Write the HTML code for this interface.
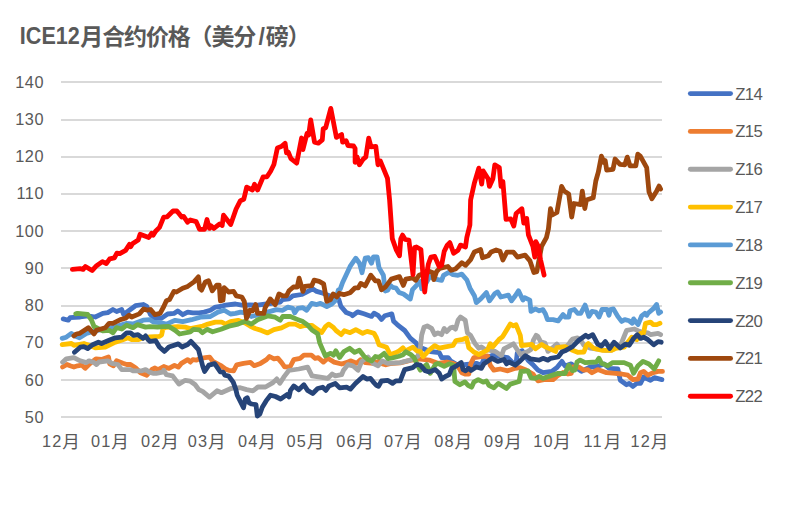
<!DOCTYPE html>
<html><head><meta charset="utf-8"><title>ICE12</title>
<style>html,body{margin:0;padding:0;background:#fff;}body{width:796px;height:517px;overflow:hidden;font-family:"Liberation Sans",sans-serif;}</style>
</head><body>
<svg width="796" height="517" viewBox="0 0 796 517" style="display:block">
<rect width="796" height="517" fill="#fff"/>
<rect x="61" y="81" width="601" height="2" fill="#D9D9D9"/>
<rect x="61" y="119" width="601" height="2" fill="#D9D9D9"/>
<rect x="61" y="156" width="601" height="2" fill="#D9D9D9"/>
<rect x="61" y="193" width="601" height="2" fill="#D9D9D9"/>
<rect x="61" y="230" width="601" height="2" fill="#D9D9D9"/>
<rect x="61" y="267" width="601" height="2" fill="#D9D9D9"/>
<rect x="61" y="305" width="601" height="2" fill="#D9D9D9"/>
<rect x="61" y="342" width="601" height="2" fill="#D9D9D9"/>
<rect x="61" y="379" width="601" height="2" fill="#D9D9D9"/>
<rect x="61" y="416" width="601" height="2" fill="#D9D9D9"/>
<g font-family="Liberation Sans, sans-serif" font-size="16.3" fill="#595959" text-anchor="end">
<text x="44.0" y="87.80" letter-spacing="0.55">140</text>
<text x="44.0" y="125.02" letter-spacing="0.55">130</text>
<text x="44.0" y="162.24" letter-spacing="0.55">120</text>
<text x="44.0" y="199.47" letter-spacing="0.55">110</text>
<text x="44.0" y="236.69" letter-spacing="0.55">100</text>
<text x="44.0" y="273.91" letter-spacing="0.55">90</text>
<text x="44.0" y="311.13" letter-spacing="0.55">80</text>
<text x="44.0" y="348.36" letter-spacing="0.55">70</text>
<text x="44.0" y="385.58" letter-spacing="0.55">60</text>
<text x="44.0" y="422.80" letter-spacing="0.55">50</text>
</g>
<g font-family="Liberation Sans, sans-serif" font-size="16.3" fill="#595959">
<text x="41.96" y="446.8" letter-spacing="1.2">12</text>
<text x="91.00" y="446.8" letter-spacing="1.2">01</text>
<text x="141.00" y="446.8" letter-spacing="1.2">02</text>
<text x="187.70" y="446.8" letter-spacing="1.2">03</text>
<text x="238.06" y="446.8" letter-spacing="1.2">04</text>
<text x="286.46" y="446.8" letter-spacing="1.2">05</text>
<text x="336.16" y="446.8" letter-spacing="1.2">06</text>
<text x="383.96" y="446.8" letter-spacing="1.2">07</text>
<text x="434.26" y="446.8" letter-spacing="1.2">08</text>
<text x="484.06" y="446.8" letter-spacing="1.2">09</text>
<text x="533.16" y="446.8" letter-spacing="1.2">10</text>
<text x="583.56" y="446.8" letter-spacing="1.2">11</text>
<text x="630.56" y="446.8" letter-spacing="1.2">12</text>
</g>
<g font-family="'Liberation Sans', 'Noto Sans CJK SC', sans-serif" font-size="17.6" fill="#595959">
<text x="62.16" y="448.4">月</text>
<text x="111.20" y="448.4">月</text>
<text x="161.20" y="448.4">月</text>
<text x="207.90" y="448.4">月</text>
<text x="258.26" y="448.4">月</text>
<text x="306.66" y="448.4">月</text>
<text x="356.36" y="448.4">月</text>
<text x="404.16" y="448.4">月</text>
<text x="454.46" y="448.4">月</text>
<text x="504.26" y="448.4">月</text>
<text x="553.36" y="448.4">月</text>
<text x="603.76" y="448.4">月</text>
<text x="650.76" y="448.4">月</text>
</g>
<polyline points="63.2,318.9 68.2,320.2 70.1,317.7 80.2,317.0 87.7,315.8 95.3,317.0 102.8,313.3 107.8,312.6 112.9,309.5 116.6,311.5 121.7,309.5 123.6,314.5 135.5,305.7 143.1,304.5 146.8,306.4 150.3,314.3 153.8,317.8 161.3,318.4 167.6,314.0 173.9,313.4 177.7,310.9 182.7,314.7 187.7,312.1 192.8,312.8 199.1,312.8 204.1,312.1 210.4,310.3 215.4,307.1 220.4,306.5 225.5,305.2 235.5,304.0 241.8,305.2 250.0,304.9 257.6,305.2 270.0,303.5 280.2,302.1 282.7,299.6 289.0,298.9 292.8,295.8 301.6,294.5 307.9,291.4 312.9,288.9 316.7,291.4 323.0,293.3 330.0,296.0 336.0,297.5 338.8,299.5 340.9,306.4 346.3,312.6 351.4,314.5 352.6,315.7 357.6,311.9 363.9,313.8 371.5,316.4 374.0,313.2 378.4,315.7 381.5,319.5 384.8,315.7 391.8,313.9 393.6,321.2 397.2,324.6 404.7,330.5 410.3,338.1 416.0,342.8 418.0,346.5 425.3,349.5 430.4,351.5 439.2,352.6 441.7,357.6 448.0,357.6 450.5,360.8 456.0,364.0 462.0,365.0 466.8,364.5 476.3,363.3 481.4,365.2 483.9,358.9 492.7,355.1 500.0,356.5 507.8,357.6 511.5,361.5 515.9,365.2 517.2,353.2 522.2,350.7 525.0,355.0 527.9,360.2 532.9,364.6 538.0,370.2 543.0,372.7 551.8,371.5 556.8,367.7 561.9,361.4 565.0,366.0 571.3,363.9 576.0,367.5 581.4,371.4 590.2,367.0 597.0,366.5 604.0,363.9 609.0,368.3 617.8,368.9 620.3,380.3 626.6,384.7 629.2,383.4 632.9,386.5 636.7,383.4 640.5,383.4 643.6,377.1 650.5,380.3 654.3,377.7 661.9,379.6" fill="none" stroke="#4472C4" stroke-width="4.8" stroke-linejoin="round" stroke-linecap="round"/>
<polyline points="62.6,367.0 67.0,364.5 70.1,365.8 73.9,367.0 77.6,365.8 82.0,365.2 85.2,368.3 89.0,364.5 92.7,361.4 95.9,358.9 101.5,359.5 108.5,357.0 109.7,363.9 113.5,365.8 116.6,360.8 122.9,363.3 126.7,364.5 130.5,364.5 135.5,367.7 140.5,372.7 146.8,375.2 151.9,369.5 155.0,368.0 158.2,369.7 163.8,366.5 168.9,368.4 174.5,365.3 178.3,367.1 181.4,363.4 187.7,359.6 190.3,362.1 192.8,359.6 196.5,360.2 200.0,358.5 205.3,357.7 209.7,357.1 212.9,361.5 220.4,365.3 225.5,369.0 228.6,370.3 233.6,370.9 236.7,364.8 243.6,363.3 250.4,362.4 254.2,365.7 260.5,363.4 266.5,359.6 269.5,356.5 274.0,358.9 277.8,358.1 281.6,362.6 284.6,366.8 290.0,367.0 293.8,359.6 300.1,358.3 303.9,355.2 311.4,355.2 315.2,358.3 318.3,357.7 323.4,362.1 327.8,358.3 334.1,362.1 341.6,364.0 347.9,362.1 350.4,360.8 356.7,363.3 360.5,359.6 365.5,362.7 373.0,363.3 379.3,361.4 382.5,364.0 386.0,364.8 390.0,363.6 400.2,362.8 410.2,360.4 418.4,358.9 429.1,360.1 437.9,363.3 446.7,362.0 453.0,363.3 457.5,365.5 461.8,372.7 465.0,374.0 468.8,374.0 470.7,363.9 473.8,357.6 487.6,355.8 490.2,365.2 493.9,370.2 500.2,369.0 507.8,370.8 515.3,368.3 520.3,367.7 526.0,370.0 532.9,374.0 538.0,380.9 545.0,379.5 553.1,379.7 558.1,375.3 563.0,372.5 568.0,374.0 571.3,373.3 572.5,367.0 578.8,367.0 583.9,370.2 587.7,369.6 592.0,372.7 597.7,369.6 606.5,372.7 615.3,373.3 621.6,374.0 627.9,375.2 632.9,379.6 638.0,379.0 640.5,372.7 643.6,371.4 648.0,375.2 653.1,372.7 658.1,371.4 662.5,371.4" fill="none" stroke="#ED7D31" stroke-width="4.8" stroke-linejoin="round" stroke-linecap="round"/>
<polyline points="62.6,362.2 66.3,358.9 73.9,357.6 80.2,360.8 86.4,362.6 89.0,360.8 94.0,362.6 96.5,364.5 99.0,362.0 107.8,360.8 111.6,363.3 117.9,364.5 121.7,369.6 130.5,369.6 133.0,370.8 141.8,370.8 145.6,369.6 149.3,372.1 153.0,373.3 156.3,373.4 162.6,372.2 163.8,370.3 166.4,374.7 172.6,375.9 178.9,384.1 185.2,380.3 190.3,381.2 195.0,384.5 198.8,389.6 202.6,391.4 209.5,397.1 217.0,390.8 221.4,392.7 231.5,388.3 240.3,387.7 246.6,389.6 252.9,390.8 257.9,387.0 265.5,387.0 273.0,382.6 276.8,378.9 279.9,383.3 284.3,376.4 288.8,370.5 298.8,369.0 307.6,367.1 312.0,375.9 320.2,377.2 327.8,378.4 332.2,374.0 335.3,375.9 341.6,374.7 343.5,370.3 347.9,364.6 352.9,365.8 358.0,370.3 361.7,361.4 368.0,357.0 373.0,363.3 378.1,365.8 382.2,361.0 387.6,363.3 400.2,362.6 410.2,360.1 417.8,356.4 420.3,347.5 421.7,335.0 424.0,327.2 427.2,325.9 431.6,328.4 434.7,334.7 437.9,332.8 441.6,334.7 444.2,328.4 446.7,331.6 450.4,327.8 453.0,327.2 455.5,329.1 458.0,320.3 460.5,317.1 465.3,320.3 467.4,332.8 470.6,335.3 475.0,343.5 478.8,348.2 481.4,346.9 485.0,349.5 495.2,351.4 501.5,355.8 504.0,348.8 513.4,343.8 520.3,354.5 527.9,351.4 531.0,349.5 533.4,340.2 536.1,335.3 538.0,336.6 540.8,341.8 545.0,343.0 548.0,351.4 553.0,347.5 556.8,344.0 559.5,347.0 566.0,347.0 569.0,343.8 570.5,341.4 572.5,339.1 577.6,337.8 581.0,340.5 583.9,345.3 590.0,348.0 597.0,349.0 605.3,350.4 612.0,350.0 620.5,345.5 624.1,336.5 626.6,330.3 634.2,329.0 638.6,330.9 643.0,332.5 648.0,332.8 650.5,334.7 658.1,333.4 660.6,334.7" fill="none" stroke="#A5A5A5" stroke-width="4.8" stroke-linejoin="round" stroke-linecap="round"/>
<polyline points="62.2,344.7 71.4,343.5 73.9,345.3 83.9,343.5 89.0,345.3 95.3,347.9 105.3,347.2 115.4,342.2 122.9,339.7 128.0,337.8 131.7,339.7 138.0,339.7 143.0,337.8 150.0,337.0 159.6,336.3 161.6,335.0 163.0,328.6 166.0,327.3 170.0,327.2 177.7,326.6 185.2,327.2 190.3,328.5 202.8,326.0 207.9,324.1 215.4,322.2 221.7,322.2 225.5,324.1 230.5,321.6 238.1,320.3 245.0,323.0 250.0,326.0 255.1,328.5 261.4,330.4 267.6,332.9 273.9,329.7 281.5,327.9 289.0,324.1 295.3,324.1 300.3,326.6 305.0,325.5 311.7,325.3 318.0,329.7 321.7,332.5 325.5,326.6 328.6,324.1 333.1,327.2 336.0,330.5 341.3,334.6 344.4,330.8 350.1,332.7 355.8,329.6 362.7,333.3 367.1,331.4 374.0,333.3 376.5,337.7 379.0,344.7 386.6,347.2 390.3,354.7 395.4,352.8 399.2,350.9 402.9,347.8 405.4,350.9 410.5,348.4 413.0,347.2 416.8,350.9 420.5,351.6 423.1,356.6 426.8,352.8 429.1,350.1 434.7,345.7 439.2,348.2 445.4,346.9 453.0,345.5 456.0,340.5 463.0,339.3 466.5,338.0 468.8,347.6 473.8,352.0 478.8,354.5 485.1,351.4 487.5,350.0 490.2,343.8 492.7,346.9 499.0,339.5 502.7,336.6 510.3,324.0 513.4,325.9 516.0,324.7 520.3,335.3 521.6,345.7 531.7,344.4 535.4,348.8 541.7,344.4 545.5,346.9 555.6,351.4 556.8,347.6 565.0,346.6 571.3,349.7 577.6,352.3 583.9,352.0 586.4,345.3 588.3,343.5 593.9,348.5 602.7,350.4 611.5,350.4 615.3,348.5 624.1,347.2 627.9,342.2 631.7,337.2 636.7,339.7 640.5,333.4 643.6,332.8 645.5,323.3 650.5,322.1 653.1,324.6 656.8,324.6 660.0,323.3" fill="none" stroke="#FFC000" stroke-width="4.8" stroke-linejoin="round" stroke-linecap="round"/>
<polyline points="62.2,338.4 66.3,337.2 71.4,333.4 75.0,336.0 79.5,337.8 86.4,333.4 95.0,331.0 103.0,329.5 111.6,327.7 126.7,323.3 133.0,324.0 143.1,320.2 150.0,319.7 153.8,322.2 161.3,322.8 166.4,324.1 175.2,320.3 182.7,321.6 191.5,319.7 200.3,317.2 210.4,316.5 217.9,312.1 224.2,310.3 230.5,314.0 235.5,313.4 240.6,312.1 245.0,313.0 251.3,316.5 258.8,314.7 267.6,312.1 276.4,309.6 282.7,310.3 287.8,307.1 292.8,308.4 294.7,312.8 297.8,308.4 302.9,307.7 306.6,310.3 311.7,303.3 316.7,304.6 320.5,303.3 326.8,306.5 331.8,304.0 335.6,300.2 338.3,290.0 340.3,288.9 342.5,282.7 350.1,266.4 355.8,258.2 359.5,263.2 362.0,272.7 365.2,258.2 368.3,257.6 371.5,263.2 373.4,256.9 377.1,256.9 379.0,267.6 383.4,275.2 385.3,291.0 387.8,290.3 390.3,285.3 392.6,287.3 396.0,288.0 399.0,292.4 403.5,294.0 410.3,299.0 412.5,289.6 417.0,284.8 420.4,281.6 421.7,288.9 425.0,285.0 429.7,276.6 435.3,279.1 441.6,280.3 443.5,275.3 449.2,272.2 453.0,274.7 458.0,275.3 461.8,274.1 466.9,280.0 470.0,288.2 474.4,295.7 476.3,302.6 480.7,298.9 486.4,292.6 489.5,300.8 494.6,293.8 497.7,291.9 500.8,297.0 508.4,295.1 511.5,300.8 515.3,295.7 518.5,290.7 522.9,300.1 524.7,297.6 529.8,300.1 531.0,311.4 535.4,308.9 539.2,310.8 543.0,309.6 545.5,314.0 547.4,319.6 553.1,319.6 558.1,320.9 563.1,314.6 565.0,317.0 568.8,317.0 570.0,310.8 574.4,309.5 577.6,313.3 580.7,313.3 585.1,305.1 588.9,316.4 592.0,311.4 595.8,312.0 599.0,317.0 602.1,309.5 607.1,309.5 609.0,315.2 610.3,309.5 613.4,308.9 617.8,316.4 621.6,321.4 624.7,319.6 629.2,320.8 632.3,323.3 633.6,318.9 638.0,324.6 641.7,315.8 644.9,313.3 646.8,315.2 648.0,313.3 653.1,308.9 656.6,304.5 658.7,313.3 660.6,312.0" fill="none" stroke="#5B9BD5" stroke-width="4.8" stroke-linejoin="round" stroke-linecap="round"/>
<polyline points="75.8,313.9 77.6,313.3 87.7,314.5 91.5,320.2 94.0,326.5 102.8,330.9 109.1,330.3 112.9,332.8 116.6,327.7 121.7,329.0 126.7,325.2 133.0,327.7 137.4,324.6 145.6,327.1 150.0,326.6 157.5,327.2 163.8,326.6 168.9,326.5 175.2,330.4 179.5,334.0 190.3,331.8 193.4,329.3 199.5,329.9 202.5,332.7 207.0,329.3 212.6,331.8 221.0,329.3 229.0,326.2 238.1,324.1 245.3,321.3 251.3,324.1 257.6,319.7 267.6,315.9 275.2,317.2 280.2,320.3 282.7,316.5 290.3,316.5 296.6,319.1 302.9,321.6 307.9,325.3 312.0,330.0 317.7,333.8 319.6,342.6 325.3,355.8 330.9,353.3 333.4,355.2 335.9,350.8 339.6,357.5 344.0,351.5 349.7,348.3 354.6,352.4 359.4,350.2 364.1,356.2 367.8,359.4 371.6,360.9 375.4,356.5 379.1,357.4 384.2,353.4 388.0,358.7 392.1,358.0 399.0,356.2 403.0,354.7 405.9,351.8 410.5,354.3 414.0,357.6 417.0,364.0 420.3,370.2 426.6,364.5 430.3,373.3 435.4,364.5 437.9,363.3 444.2,366.4 449.2,363.9 453.6,365.2 454.9,381.5 459.9,384.7 464.9,381.9 468.1,385.3 471.6,387.2 473.8,382.2 478.2,379.7 483.2,382.2 486.4,380.9 488.9,385.3 493.9,387.8 498.3,383.4 506.5,388.5 510.3,384.1 519.1,381.5 521.0,371.5 527.9,370.8 531.0,377.8 535.4,378.4 539.2,376.5 543.0,378.4 550.5,375.9 558.1,373.4 565.0,373.5 568.8,365.2 572.5,370.8 575.0,370.0 577.0,362.0 580.1,360.1 585.1,362.6 596.4,362.0 599.0,358.2 601.5,363.3 607.8,365.8 612.8,362.6 624.1,362.6 630.4,365.2 633.6,373.3 638.0,365.8 643.0,361.4 649.0,364.0 654.3,368.9 657.0,364.0 658.7,360.8" fill="none" stroke="#70AD47" stroke-width="4.8" stroke-linejoin="round" stroke-linecap="round"/>
<polyline points="74.5,352.3 80.2,347.2 83.9,346.6 87.7,348.5 92.7,344.7 98.4,342.2 101.5,343.5 109.1,340.3 115.4,337.8 121.7,337.2 126.7,332.8 130.5,332.8 133.6,335.3 138.0,334.7 143.1,338.4 145.6,335.9 148.1,339.7 150.0,341.4 155.7,340.7 159.4,347.0 164.5,351.4 168.9,347.0 178.3,343.9 182.1,347.0 187.7,344.5 190.9,341.4 198.4,349.5 202.8,366.5 204.6,371.4 208.9,365.1 214.6,363.6 220.3,371.8 223.2,372.1 224.8,375.2 228.8,376.2 233.2,382.1 235.9,389.6 237.2,395.2 243.5,407.8 245.3,399.0 247.2,397.7 249.1,402.8 251.6,404.0 256.0,404.7 257.3,416.0 259.8,414.1 262.3,407.2 266.1,400.9 270.5,395.2 275.5,396.5 280.6,399.0 286.9,394.6 289.0,397.0 290.5,390.4 293.8,386.0 298.8,389.7 303.9,384.7 307.6,390.4 312.7,393.5 317.7,388.5 322.7,387.2 325.9,390.4 329.0,386.0 335.3,383.5 339.7,387.9 346.6,387.2 350.4,389.1 355.4,383.5 363.0,376.5 366.8,379.1 370.5,378.4 373.0,381.6 376.0,385.0 378.5,386.3 381.5,381.0 387.6,380.3 392.6,383.4 395.8,380.9 400.2,380.9 404.6,369.6 412.7,367.7 416.5,364.5 420.3,365.2 425.3,370.8 429.1,372.1 435.4,369.6 439.2,373.3 441.7,379.0 445.4,376.5 449.2,374.6 451.7,368.3 455.5,366.4 461.2,362.6 463.1,369.6 465.6,370.8 468.5,368.3 471.0,370.5 476.3,367.0 481.4,368.3 483.9,363.9 490.2,359.5 492.0,358.3 497.7,361.4 504.0,359.5 506.5,363.9 509.0,362.0 515.3,365.2 519.1,362.0 525.4,355.8 530.4,358.9 539.2,360.2 543.0,358.3 548.0,360.2 550.5,358.3 558.1,357.0 561.9,352.0 565.0,350.8 572.5,346.6 578.8,340.3 585.8,335.3 588.3,337.2 592.7,334.7 597.7,344.1 601.5,346.0 605.3,341.6 609.7,348.5 614.1,342.2 620.3,347.9 625.4,344.1 629.2,345.3 633.6,338.4 637.3,334.7 640.5,338.4 643.6,337.2 648.0,339.7 653.7,344.7 658.1,341.6 661.2,342.2" fill="none" stroke="#264478" stroke-width="4.8" stroke-linejoin="round" stroke-linecap="round"/>
<polyline points="73.9,335.9 76.4,334.0 79.5,333.4 88.3,327.7 94.0,334.0 96.5,330.3 105.3,327.7 109.1,323.3 112.9,323.3 120.4,319.6 125.4,318.3 129.2,315.2 131.7,317.0 139.3,313.9 143.7,308.9 146.8,310.1 150.6,309.5 155.0,314.7 160.1,313.4 163.8,306.5 166.4,300.8 169.5,299.6 173.9,291.4 176.4,292.0 182.7,288.2 187.7,286.4 194.0,281.9 198.4,276.9 199.7,288.2 201.6,290.1 205.3,281.9 208.5,280.7 212.3,290.8 216.7,285.1 219.2,285.1 220.4,300.8 223.0,300.2 224.2,287.6 228.6,292.0 233.6,291.4 236.2,295.8 241.8,297.0 244.3,301.4 246.5,318.4 250.0,310.3 252.5,310.9 255.7,304.6 257.6,313.4 263.9,313.4 265.1,307.7 270.2,298.9 275.2,304.6 279.0,293.9 282.7,295.8 286.5,295.8 289.0,290.8 293.4,287.0 297.2,287.0 299.1,278.2 302.9,291.4 304.7,286.4 311.7,285.7 314.2,280.1 319.2,281.3 323.6,283.8 326.8,301.4 330.5,299.6 333.1,293.9 336.8,297.0 339.3,293.3 343.8,294.7 350.1,292.8 355.1,287.8 358.3,287.8 360.8,283.4 365.2,285.9 370.8,275.2 375.3,280.8 378.4,280.8 381.5,289.7 385.3,287.1 391.3,279.1 399.5,276.6 403.3,285.4 405.8,279.1 412.7,277.8 415.8,280.3 419.0,275.3 429.7,271.5 432.8,272.8 433.8,279.7 436.6,271.5 439.7,268.4 447.9,266.5 451.1,270.3 455.5,269.0 461.8,262.7 465.5,265.3 470.6,259.6 474.3,252.0 480.6,249.6 482.5,257.7 488.3,255.8 491.2,251.9 496.1,250.0 500.0,251.3 502.9,260.0 506.8,252.2 513.5,252.2 517.4,257.1 525.1,255.1 530.0,260.9 533.9,272.5 536.8,271.6 541.6,246.4 546.4,237.7 548.4,229.0 550.5,208.7 552.3,215.0 556.9,212.5 561.6,186.4 564.2,191.1 568.7,194.0 571.7,217.0 574.0,203.5 580.6,204.6 582.3,191.1 584.8,208.5 586.4,200.0 593.2,197.8 595.8,181.0 598.3,172.2 601.4,156.2 604.1,162.5 605.2,160.6 606.7,170.1 613.0,169.3 615.1,159.0 620.0,164.4 624.8,164.8 627.3,157.1 630.0,165.8 635.8,165.8 637.8,154.2 640.3,156.1 646.7,167.7 649.0,191.9 651.9,198.7 656.7,190.9 659.1,186.1 660.6,189.0" fill="none" stroke="#9E480E" stroke-width="4.8" stroke-linejoin="round" stroke-linecap="round"/>
<polyline points="72.4,269.4 80.1,268.6 83.1,269.4 85.4,266.5 92.1,270.5 96.6,265.7 102.4,261.6 106.3,263.6 109.7,258.9 114.4,257.8 116.9,253.1 119.8,253.7 125.6,250.4 129.5,244.4 130.8,246.7 132.4,243.8 138.2,240.0 140.1,234.2 148.8,237.5 151.7,233.2 153.3,235.1 155.6,231.3 159.5,227.4 163.7,217.1 167.2,216.8 173.0,211.0 176.9,211.0 181.7,217.1 183.6,216.4 187.5,222.2 190.4,220.0 196.2,221.6 199.5,229.3 204.5,229.3 207.0,219.5 209.4,228.4 211.0,225.8 213.9,228.4 219.7,223.9 222.2,225.5 223.5,215.2 230.7,224.5 236.1,209.0 240.4,200.7 243.8,199.3 246.7,187.1 252.5,190.0 254.5,184.3 257.6,190.0 263.2,176.8 267.0,176.8 270.6,171.3 273.9,164.5 277.4,148.0 281.3,146.5 285.1,143.2 286.5,152.9 288.4,152.3 290.9,158.7 296.7,163.1 301.6,138.0 302.9,149.6 307.0,133.5 308.7,134.9 310.7,120.0 314.5,142.2 318.4,143.2 322.3,139.9 323.2,128.7 325.7,127.7 330.8,108.4 336.4,137.4 341.6,134.5 342.6,142.2 346.1,140.7 348.0,145.5 353.6,146.0 355.1,148.4 355.1,162.3 357.1,157.1 359.4,164.8 363.3,159.0 365.8,157.1 368.7,138.1 371.0,146.8 375.8,146.4 378.0,164.8 380.3,160.9 387.5,178.4 389.6,200.0 392.3,238.6 396.4,250.2 399.5,255.8 400.8,238.8 402.6,235.1 405.2,239.5 408.9,240.1 413.0,274.7 414.6,247.6 416.5,247.0 420.9,249.5 423.4,280.3 424.7,292.0 426.5,275.3 428.4,264.0 430.9,257.1 434.7,256.4 439.1,266.5 441.6,265.3 444.2,251.4 447.3,245.1 449.8,242.6 453.6,253.3 458.0,250.2 460.5,245.1 465.5,247.0 466.8,237.6 469.9,225.0 470.6,200.0 474.5,182.6 478.8,168.1 481.7,184.1 483.2,171.0 488.1,178.7 489.4,186.4 492.9,178.7 494.8,164.8 499.3,167.5 501.0,186.4 502.9,181.6 506.0,219.3 510.7,218.9 513.8,226.1 516.1,213.5 521.9,208.7 523.8,223.2 526.7,218.4 528.4,234.8 532.9,246.4 534.8,257.1 535.8,241.6 538.3,246.4 540.6,260.0 544.1,275.1" fill="none" stroke="#FF0000" stroke-width="4.8" stroke-linejoin="round" stroke-linecap="round"/>
<g font-family="Liberation Sans, sans-serif" font-size="16.7" fill="#595959">
<line x1="690.3" y1="93.60" x2="730.6" y2="93.60" stroke="#4472C4" stroke-width="4.8" stroke-linecap="round"/>
<text x="735.2" y="99.55" letter-spacing="-0.6">Z14</text>
<line x1="690.3" y1="131.43" x2="730.6" y2="131.43" stroke="#ED7D31" stroke-width="4.8" stroke-linecap="round"/>
<text x="735.2" y="137.38" letter-spacing="-0.6">Z15</text>
<line x1="690.3" y1="169.26" x2="730.6" y2="169.26" stroke="#A5A5A5" stroke-width="4.8" stroke-linecap="round"/>
<text x="735.2" y="175.21" letter-spacing="-0.6">Z16</text>
<line x1="690.3" y1="207.09" x2="730.6" y2="207.09" stroke="#FFC000" stroke-width="4.8" stroke-linecap="round"/>
<text x="735.2" y="213.04" letter-spacing="-0.6">Z17</text>
<line x1="690.3" y1="244.92" x2="730.6" y2="244.92" stroke="#5B9BD5" stroke-width="4.8" stroke-linecap="round"/>
<text x="735.2" y="250.87" letter-spacing="-0.6">Z18</text>
<line x1="690.3" y1="282.75" x2="730.6" y2="282.75" stroke="#70AD47" stroke-width="4.8" stroke-linecap="round"/>
<text x="735.2" y="288.70" letter-spacing="-0.6">Z19</text>
<line x1="690.3" y1="320.58" x2="730.6" y2="320.58" stroke="#264478" stroke-width="4.8" stroke-linecap="round"/>
<text x="735.2" y="326.53" letter-spacing="-0.6">Z20</text>
<line x1="690.3" y1="358.41" x2="730.6" y2="358.41" stroke="#9E480E" stroke-width="4.8" stroke-linecap="round"/>
<text x="735.2" y="364.36" letter-spacing="-0.6">Z21</text>
<line x1="690.3" y1="396.24" x2="730.6" y2="396.24" stroke="#FF0000" stroke-width="4.8" stroke-linecap="round"/>
<text x="735.2" y="402.19" letter-spacing="-0.6">Z22</text>
</g>
<g font-family="'Liberation Sans', 'Noto Sans CJK SC', sans-serif" font-weight="bold" fill="#595959">
<text x="19.8" y="43.85" font-size="23.9" textLength="60" lengthAdjust="spacingAndGlyphs">ICE12</text>
<text x="80.33" y="44.7" font-size="23" letter-spacing="-1.15">月合约价格（美分</text>
<text x="261.6" y="44.7" font-size="23" text-anchor="middle">/</text>
<text x="265.72" y="44.7" font-size="23" letter-spacing="-1.15">磅）</text>
</g>
</svg>
</body></html>
